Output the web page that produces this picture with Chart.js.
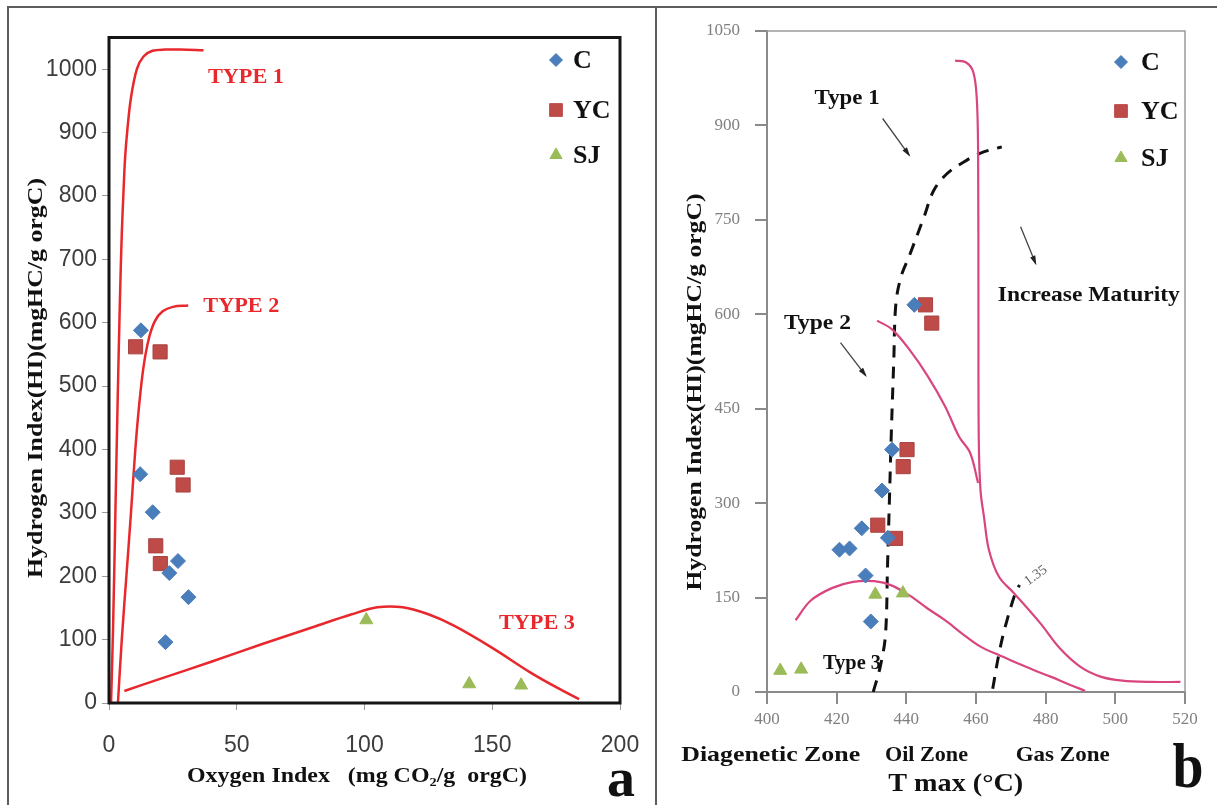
<!DOCTYPE html>
<html><head><meta charset="utf-8">
<script src="https://cdn.jsdelivr.net/npm/chart.js@4.4.1/dist/chart.umd.min.js"></script>
<style>
html,body{margin:0;padding:0;background:#fff;width:1217px;height:805px;overflow:hidden;}
#wrap{position:relative;width:1217px;height:805px;}
canvas{position:absolute;top:0;}
#ca{left:0;} #cb{left:657px;}
.ln{position:absolute;background:#5c5c5c;}
</style></head><body>
<div id="wrap">
<canvas id="ca" width="657" height="805"></canvas>
<canvas id="cb" width="560" height="805"></canvas>
<div class="ln" style="left:7px;top:6px;width:1210px;height:2px"></div>
<div class="ln" style="left:7px;top:6px;width:2px;height:799px"></div>
<div class="ln" style="left:655px;top:6px;width:2px;height:799px"></div>
</div>
<script>
// ================= Panel a : HI vs OI =================
const seriesNames = ['C', 'YC', 'SJ'];
const oiC  = [12.5, 12.2, 17.1, 27.0, 23.6, 31.1, 22.1];
const hiC  = [588, 361, 301, 224, 205, 167, 96];
const oiYC = [10.4, 20.0, 26.7, 29.0, 18.3, 20.1];
const hiYC = [562, 554, 372, 344, 248, 220];
const oiSJ = [100.7, 141.0, 161.3];
const hiSJ = [131, 30, 28];
// kerogen type reference curves
const type1OI = [0.8, 1.6, 2.5, 3.4, 4.3, 5.0, 5.6, 6.3, 7.2, 8.6, 10.9, 13.5, 17, 22, 28, 37];
const type1HI = [0, 120, 300, 480, 640, 740, 800, 860, 905, 955, 1000, 1020, 1029, 1031, 1031, 1030];
const type2OI = [3.5, 5.0, 6.8, 8.6, 10.3, 11.8, 13.5, 15.6, 18, 21, 25, 31];
const type2HI = [0, 100, 200, 300, 400, 470, 530, 575, 603, 618, 625, 627];
const type3OI = [6, 20, 40, 60, 80, 95, 105, 115, 125, 135, 150, 165, 175, 184];
const type3HI = [19, 38, 65, 93, 120, 140, 151, 151, 140, 122, 87, 48, 25, 6];
const xTicksA = [0, 50, 100, 150, 200];
const yTicksA = [0, 100, 200, 300, 400, 500, 600, 700, 800, 900, 1000];
const typeLabelsA = ['TYPE 1', 'TYPE 2', 'TYPE 3'];
const typeLabelOIA = [53.6, 51.8, 167.5];
const typeLabelHIA = [987, 625, 125];

// ================= Panel b : HI vs Tmax =================
const tmC  = [442.3, 435.9, 433.0, 427.2, 423.7, 420.8, 428.3, 429.8, 434.7];
const hiBC = [615, 385, 320, 260, 228, 226, 185, 112, 245];
const tmYC = [445.5, 447.3, 440.2, 439.1, 431.8, 436.9];
const hiBYC = [615, 586, 385, 358, 265, 244];
const tmSJ = [431.1, 439.0, 403.8, 409.8];
const hiBSJ = [155, 157, 34, 36];
// maturation path curves
const pathIT  = [454, 457.2, 459.2, 460.2, 460.6, 460.7, 460.8, 461.3, 462.3, 463.7, 466.6, 470.9, 478.5, 484, 490, 496, 502, 510, 518.7];
const pathIHI = [1003, 1000, 985, 945, 860, 600, 400, 320, 278, 226, 183, 157, 109, 70, 40, 24, 18, 16, 16];
const pathIIT  = [431.6, 435.9, 441, 446, 451.1, 455.2, 458.3, 460.6];
const pathIIHI = [590, 576, 543, 503, 454, 405, 380, 332];
const pathIIIT  = [408.2, 412.5, 418.6, 424.7, 430.8, 435.9, 441, 446, 451.1, 456.2, 461.3, 466.4, 471.4, 476.5, 481.6, 486.7, 491.3];
const pathIIIHI = [114, 145, 165, 175, 176, 169, 153, 133, 114, 92, 72, 59, 47, 35, 24, 12, 2];
// zone boundaries (dashed)
const oilT  = [430.5, 432.5, 434.0, 434.6, 435.2, 435.7, 436.4, 437.0, 438.5, 440.8, 445.1, 447.9, 451.8, 456.5, 461.3, 467.4];
const oilHI = [0, 40, 90, 200, 316, 413, 527, 617, 660, 692, 755, 797, 824, 842, 856, 866];
const gasT  = [464.8, 466.6, 468.5, 471.3, 472.5];
const gasHI = [5, 61, 106, 157, 170];
const xTicksB = [400, 420, 440, 460, 480, 500, 520];
const yTicksB = [0, 150, 300, 450, 600, 750, 900, 1050];
const typeLabelsB = ['Type 1', 'Type 2', 'Type 3', 'Increase Maturity'];
const typeLabelTB = [423, 414.5, 424.4, 492.4];
const typeLabelHIB = [942, 586, 44.5, 629];
const arrowFromT = [433.2, 421.1, 472.8];
const arrowFromHI = [911, 555, 739];
const arrowToT = [440.8, 428.3, 477.1];
const arrowToHI = [853, 503, 681];
const roLabel = '1.35';

// ================= helpers =================
const SERIF = "'Liberation Serif','Times New Roman',serif";
const SANS = "'Liberation Sans',Arial,sans-serif";
const BLUE = '#4a7ebb', RED = '#be4b48', GREEN = '#9bbb59';
const LRED = '#e8282c', PINK = '#d9467f';
const pts = (xs, ys) => xs.map((v, i) => ({x: v, y: ys[i]}));
const plain = v => String(v);

function fitText(ctx, text, x, y, font, width, color, rot, align) {
  ctx.save();
  ctx.font = font;
  const w = ctx.measureText(text).width;
  const sx = width ? width / w : 1;
  ctx.translate(x, y);
  if (rot) ctx.rotate(rot);
  ctx.scale(sx, 1);
  ctx.textAlign = align || 'center';
  ctx.textBaseline = 'middle';
  ctx.fillStyle = color || '#111';
  ctx.fillText(text, 0, 0);
  ctx.restore();
}
function marker(ctx, style, r, color, x, y) {
  ctx.save();
  ctx.fillStyle = color; ctx.strokeStyle = color; ctx.lineWidth = 1;
  if (Chart.helpers && Chart.helpers.drawPoint) {
    Chart.helpers.drawPoint(ctx, {pointStyle: style, radius: r, rotation: 0, borderWidth: 1}, x, y);
  }
  ctx.restore();
}
function arrow(ctx, x1, y1, x2, y2) {
  ctx.save();
  ctx.strokeStyle = '#444'; ctx.fillStyle = '#222'; ctx.lineWidth = 1.3;
  ctx.beginPath(); ctx.moveTo(x1, y1); ctx.lineTo(x2, y2); ctx.stroke();
  const a = Math.atan2(y2 - y1, x2 - x1), L = 8;
  ctx.beginPath();
  ctx.moveTo(x2 + 2 * Math.cos(a), y2 + 2 * Math.sin(a));
  ctx.lineTo(x2 - L * Math.cos(a - 0.35), y2 - L * Math.sin(a - 0.35));
  ctx.lineTo(x2 - L * Math.cos(a + 0.35), y2 - L * Math.sin(a + 0.35));
  ctx.closePath(); ctx.fill();
  ctx.restore();
}
const pointSets = (xsC, ysC, xsY, ysY, xsS, ysS) => [
  {label: seriesNames[0], data: pts(xsC, ysC), pointStyle: 'rectRot', pointRadius: 7.5, backgroundColor: BLUE, borderColor: BLUE, borderWidth: 1, order: 0},
  {label: seriesNames[1], data: pts(xsY, ysY), pointStyle: 'rect', pointRadius: 10, backgroundColor: RED, borderColor: '#a84340', borderWidth: 1, order: 0},
  {label: seriesNames[2], data: pts(xsS, ysS), pointStyle: 'triangle', pointRadius: 7.5, backgroundColor: GREEN, borderColor: GREEN, borderWidth: 1, order: 0}
];
const curve = (label, xs, ys, color, w, dash) => ({
  label, data: pts(xs, ys), showLine: true, pointRadius: 0, borderColor: color, borderWidth: w,
  borderDash: dash || [], tension: 0.35, fill: false, order: 2
});
const legendStyles = [['rectRot', 6.5, BLUE], ['rect', 9, RED], ['triangle', 7, GREEN]];

// ================= Chart a =================
new Chart(document.getElementById('ca'), {
  type: 'scatter',
  data: {datasets: [
    ...pointSets(oiC, hiC, oiYC, hiYC, oiSJ, hiSJ),
    curve('TYPE 1', type1OI, type1HI, LRED, 2.5),
    curve('TYPE 2', type2OI, type2HI, LRED, 2.5),
    curve('TYPE 3', type3OI, type3HI, LRED, 2.5)
  ]},
  options: {
    responsive: false, animation: false, devicePixelRatio: 1,
    layout: {autoPadding: false, padding: {left: 0, top: 37.5, right: 37, bottom: 52}},
    plugins: {legend: {display: false}, tooltip: {enabled: false}},
    scales: {
      x: {type: 'linear', min: 0, max: 200,
        afterBuildTicks: s => { s.ticks = xTicksA.map(v => ({value: v})); },
        afterFit: s => { s.height = 50; },
        ticks: {font: {family: SANS, size: 23, lineHeight: 1.8}, color: '#3c3c3c', padding: 15, maxRotation: 0, callback: plain},
        grid: {drawOnChartArea: false, drawTicks: true, tickLength: 7, color: '#9a9a9a', lineWidth: 1},
        border: {display: false}},
      y: {type: 'linear', min: 0, max: 1050,
        afterBuildTicks: s => { s.ticks = yTicksA.map(v => ({value: v})); },
        afterFit: s => { s.width = 109; },
        ticks: {font: {family: SANS, size: 23}, color: '#3c3c3c', padding: 5, callback: plain},
        grid: {drawOnChartArea: false, drawTicks: true, tickLength: 7, color: '#9a9a9a', lineWidth: 1},
        border: {display: false}}
    }
  },
  plugins: [{
    id: 'panelA',
    afterDatasetsDraw(chart) {
      const {ctx, chartArea: a, scales: {x, y}} = chart;
      ctx.save(); ctx.strokeStyle = '#151515'; ctx.lineWidth = 3;
      ctx.strokeRect(a.left, a.top, a.right - a.left, a.bottom - a.top); ctx.restore();
      typeLabelsA.forEach((t, i) => fitText(ctx, t, x.getPixelForValue(typeLabelOIA[i]), y.getPixelForValue(typeLabelHIA[i]),
        `bold 21px ${SERIF}`, 76, LRED));
      const ly = [22.5, 72.5, 117.5];
      seriesNames.forEach((n, i) => {
        const [st, r, c] = legendStyles[i];
        marker(ctx, st, r, c, a.right - 64, a.top + ly[i]);
        fitText(ctx, n, a.right - 47, a.top + ly[i] + 1, `bold 26px ${SERIF}`, null, '#111', 0, 'left');
      });
    },
    afterDraw(chart) {
      const ctx = chart.ctx;
      fitText(ctx, 'Hydrogen Index(HI)(mgHC/g orgC)', 36, 378, `bold 22px ${SERIF}`, 400, '#111', -Math.PI / 2);
      fitText(ctx, 'Oxygen Index   (mg CO\u2082/g  orgC)', 357, 777, `bold 21px ${SERIF}`, 340, '#111');
      fitText(ctx, 'a', 621, 782, `bold 54px ${SERIF}`, 28, '#111');
    }
  }]
});

// ================= Chart b =================
new Chart(document.getElementById('cb'), {
  type: 'scatter',
  data: {datasets: [
    ...pointSets(tmC, hiBC, tmYC, hiBYC, tmSJ, hiBSJ),
    curve('Type I path', pathIT, pathIHI, PINK, 2.2),
    curve('Type II path', pathIIT, pathIIHI, PINK, 2.2),
    curve('Type III path', pathIIIT, pathIIIHI, PINK, 2.2),
    curve('Oil window', oilT, oilHI, '#111', 3, [12, 9]),
    curve('Gas window', gasT, gasHI, '#111', 3, [12, 9])
  ]},
  options: {
    responsive: false, animation: false, devicePixelRatio: 1,
    layout: {autoPadding: false, padding: {left: 0, top: 31, right: 32, bottom: 63}},
    plugins: {legend: {display: false}, tooltip: {enabled: false}},
    scales: {
      x: {type: 'linear', min: 400, max: 520,
        afterBuildTicks: s => { s.ticks = xTicksB.map(v => ({value: v})); },
        afterFit: s => { s.height = 50; },
        ticks: {font: {family: SERIF, size: 17}, color: '#808080', padding: 5, maxRotation: 0, callback: plain},
        grid: {drawOnChartArea: false, drawTicks: true, tickLength: 12, color: '#8a8a8a', lineWidth: 2},
        border: {display: true, color: '#8a8a8a', width: 2}},
      y: {type: 'linear', min: 0, max: 1050,
        afterBuildTicks: s => { s.ticks = yTicksB.map(v => ({value: v})); },
        afterFit: s => { s.width = 110; },
        ticks: {font: {family: SERIF, size: 17}, color: '#808080', padding: 15, callback: plain},
        grid: {drawOnChartArea: false, drawTicks: true, tickLength: 12, color: '#8a8a8a', lineWidth: 2},
        border: {display: true, color: '#8a8a8a', width: 2}}
    }
  },
  plugins: [{
    id: 'panelB',
    afterDatasetsDraw(chart) {
      const {ctx, chartArea: a, scales: {x, y}} = chart;
      ctx.save(); ctx.strokeStyle = '#9a9a9a'; ctx.lineWidth = 1.5;
      ctx.beginPath(); ctx.moveTo(a.left, a.top); ctx.lineTo(a.right, a.top); ctx.lineTo(a.right, a.bottom); ctx.stroke();
      ctx.restore();
      const widths = [65, 67, 58, 182];
      typeLabelsB.forEach((t, i) => fitText(ctx, t, x.getPixelForValue(typeLabelTB[i]), y.getPixelForValue(typeLabelHIB[i]),
        `bold 21px ${SERIF}`, widths[i], '#111'));
      arrowFromT.forEach((t, i) => arrow(ctx, x.getPixelForValue(t), y.getPixelForValue(arrowFromHI[i]),
        x.getPixelForValue(arrowToT[i]), y.getPixelForValue(arrowToHI[i])));
      fitText(ctx, roLabel, x.getPixelForValue(477.2), y.getPixelForValue(185), `14px ${SERIF}`, null, '#666', -0.62);
      const ly = [31, 80, 127];
      seriesNames.forEach((n, i) => {
        const [st, r, c] = legendStyles[i];
        marker(ctx, st, r, c, a.right - 64, a.top + ly[i]);
        fitText(ctx, n, a.right - 44, a.top + ly[i] + 1, `bold 26px ${SERIF}`, null, '#111', 0, 'left');
      });
    },
    afterDraw(chart) {
      const ctx = chart.ctx, o = 657;
      fitText(ctx, 'Hydrogen Index(HI)(mgHC/g orgC)', 695 - o, 392, `bold 22px ${SERIF}`, 397, '#111', -Math.PI / 2);
      fitText(ctx, 'Diagenetic Zone', 770.7 - o, 755, `bold 22px ${SERIF}`, 179, '#111');
      fitText(ctx, 'Oil Zone', 926.5 - o, 755, `bold 22px ${SERIF}`, 83, '#111');
      fitText(ctx, 'Gas Zone', 1062.7 - o, 755, `bold 22px ${SERIF}`, 94, '#111');
      fitText(ctx, 'T max (\u00B0C)', 955.7 - o, 785, `bold 25px ${SERIF}`, 135, '#111');
      fitText(ctx, 'b', 1188 - o, 770, `bold 64px ${SERIF}`, 31, '#111');
    }
  }]
});
</script>
</body></html>
